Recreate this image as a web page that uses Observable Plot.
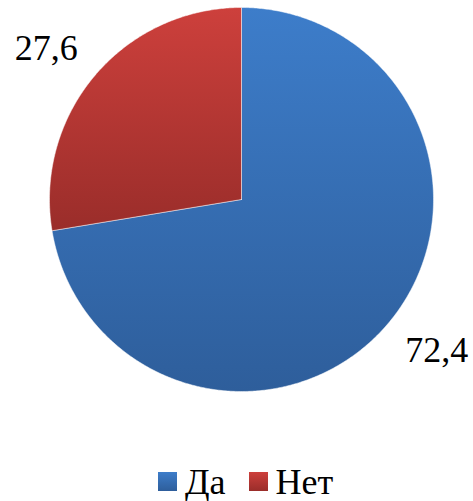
<!DOCTYPE html>
<html><head><meta charset="utf-8">
<script src="https://cdn.jsdelivr.net/npm/d3@7"></script>
<script src="https://cdn.jsdelivr.net/npm/@observablehq/plot@0.6"></script>
<style>
html,body{margin:0;padding:0;background:#fff;}
#chart{position:relative;width:473px;height:501px;}
#legend{position:absolute;left:158px;top:464px;display:flex;align-items:flex-start;font-size:36px;line-height:36px;color:#000;}
.sw{width:19px;height:19px;margin-top:8px;margin-right:8px;}
.item{display:flex;align-items:flex-start;}
</style></head>
<body style="font-family:'Liberation Serif','Times New Roman',serif"><div id="chart"></div>
<script>
const categories = ["Да", "Нет"];
const values = [72.4, 27.6];
const labels = ["72,4", "27,6"];
const gradients = [["#3d7dca", "#2e5e9b"], ["#cd403c", "#9a2d2a"]];
const SERIF = "'Liberation Serif','Times New Roman',serif";

const total = d3.sum(values);
let acc = 0;
const slices = categories.map((c, i) => {
  const a0 = acc / total * 2 * Math.PI;
  acc += values[i];
  const a1 = acc / total * 2 * Math.PI;
  return {key: c, value: values[i], label: labels[i], a0, a1, mid: (a0 + a1) / 2, i};
});
function outline(s) {
  const pts = [{key: s.key, x: 0, y: 0}];
  const n = Math.max(2, Math.ceil((s.a1 - s.a0) / (Math.PI / 360)));
  for (let k = 0; k <= n; k++) {
    const a = s.a0 + (s.a1 - s.a0) * k / n;
    pts.push({key: s.key, x: Math.sin(a), y: Math.cos(a)});
  }
  pts.push({key: s.key, x: 0, y: 0});
  return pts;
}
const labelPts = slices.map(s => ({label: s.label, x: Math.sin(s.mid) * 1.334, y: Math.cos(s.mid) * 1.215}));

const plot = Plot.plot({
  width: 473,
  height: 440,
  margin: 0,
  style: {fontFamily: SERIF, background: "#fff"},
  x: {domain: [-1, 1], range: [49, 433], axis: null},
  y: {domain: [-1, 1], range: [391, 7], axis: null},
  marks: [
    ...slices.map(s => Plot.line(outline(s), {x: "x", y: "y", fill: `url(#g${s.i})`, stroke: "#ffffff", strokeOpacity: 0.6, strokeWidth: 0.8, curve: "linear"})),
    Plot.text(labelPts, {x: "x", y: "y", text: "label", fontSize: 36, fontFamily: "Liberation Serif", fill: "#000", lineAnchor: "middle", textAnchor: "middle"})
  ]
});
plot.querySelectorAll("text").forEach(t => t.style.fontFamily = SERIF);
const ns = "http://www.w3.org/2000/svg";
const defs = document.createElementNS(ns, "defs");
gradients.forEach((g, i) => {
  const lg = document.createElementNS(ns, "linearGradient");
  lg.setAttribute("id", "g" + i);
  lg.setAttribute("x1", "0"); lg.setAttribute("y1", "0");
  lg.setAttribute("x2", "0"); lg.setAttribute("y2", "1");
  g.forEach((c, j) => {
    const st = document.createElementNS(ns, "stop");
    st.setAttribute("offset", j === 0 ? "0" : "1");
    st.setAttribute("stop-color", c);
    lg.appendChild(st);
  });
  defs.appendChild(lg);
});
plot.insertBefore(defs, plot.firstChild);
const chart = document.getElementById("chart");
chart.appendChild(plot);

const legend = document.createElement("div");
legend.id = "legend";
legend.style.fontFamily = SERIF;
categories.forEach((c, i) => {
  const it = document.createElement("div");
  it.className = "item";
  it.style.marginRight = i === 0 ? "23px" : "0";
  const sw = document.createElement("div");
  sw.className = "sw";
  sw.style.background = `linear-gradient(${gradients[i][0]}, ${gradients[i][1]})`;
  const t = document.createElement("span");
  t.style.fontFamily = SERIF;
  t.textContent = c;
  it.appendChild(sw); it.appendChild(t);
  legend.appendChild(it);
});
chart.appendChild(legend);
</script>
</body></html>
